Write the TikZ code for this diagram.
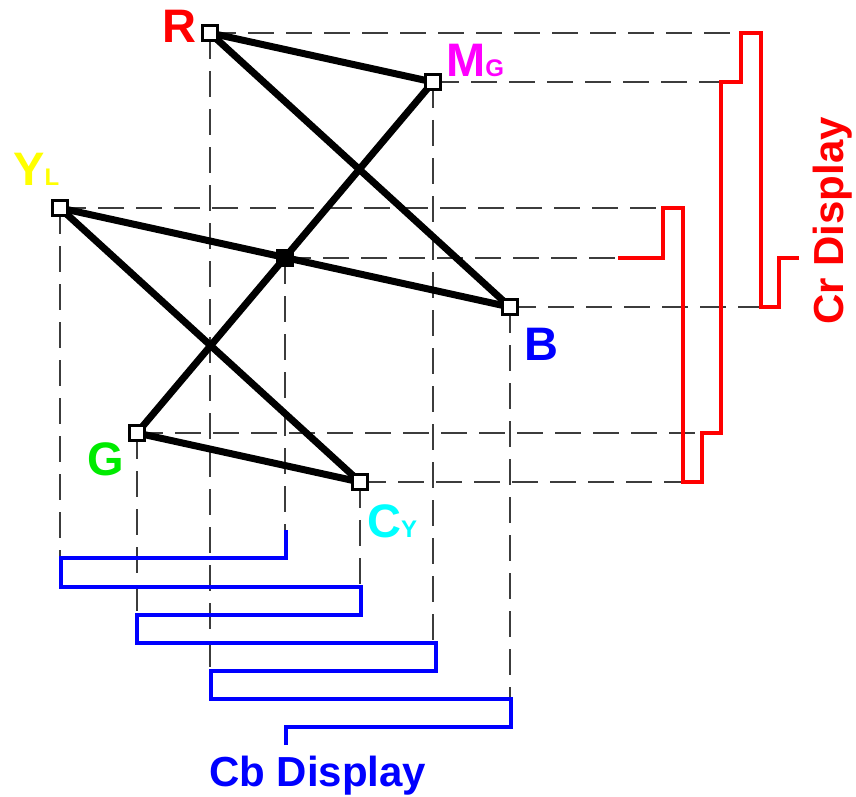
\documentclass[tikz,border=0pt]{standalone}
\usepackage{fontspec}
\setmainfont{Liberation Sans}
\usepackage{xcolor}
\definecolor{lred}{RGB}{255,0,0}
\definecolor{lgreen}{RGB}{0,235,0}
\definecolor{lblue}{RGB}{0,0,255}
\definecolor{lmagenta}{RGB}{255,0,255}
\definecolor{lyellow}{RGB}{255,255,0}
\definecolor{lcyan}{RGB}{0,255,255}
\definecolor{guidegray}{RGB}{60,60,60}
\newcommand\lsub[1]{{\fontsize{24}{24}\selectfont #1}}

\begin{document}
\begin{tikzpicture}[x=1pt,y=-1pt,
    pt/.style={draw,line width=3.5pt,fill=white,minimum size=15pt,inner sep=0pt},
    ptc/.style={pt,fill=black},
    bar/.style={line width=7pt},
    guide/.style={draw=guidegray,line width=1.4pt,dash pattern=on 26pt off 12pt},
    wave/.style={line width=4pt},
    big/.style={font=\bfseries\fontsize{47}{47}\selectfont,inner sep=0pt,anchor=base west},
    title/.style={font=\bfseries\fontsize{42}{42}\selectfont,inner sep=0pt}]
    \useasboundingbox (0,0) rectangle (856,797);

    % colour points
    \coordinate (R) at (210,33);
    \coordinate (MG) at (433,82);
    \coordinate (YL) at (60,208);
    \coordinate (X) at (285,258);
    \coordinate (B) at (510,307);
    \coordinate (G) at (137,433);
    \coordinate (CY) at (360,482);

    % projections to the two displays
    \foreach \p/\x in {R/741,MG/721,YL/663,X/618,B/761,G/702,CY/683}
        \draw[guide] (\p) -- (\p -| \x,0);
    \foreach \p/\y in {X/530,YL/558,CY/587,G/615,MG/643,R/671,B/699}
        \draw[guide] (\p) -- (\p |- 0,\y);

    \draw[bar] (R) -- (MG);
    \draw[bar] (R) -- (B);
    \draw[bar] (MG) -- (G);
    \draw[bar] (YL) -- (B);
    \draw[bar] (YL) -- (CY);
    \draw[bar] (G) -- (CY);

    \foreach \p in {R,MG,YL,B,G,CY}
        \node[pt] at (\p) {};
    \node[ptc] at (X) {};

    % Cr waveform
    \draw[wave,lred] (618,258) -| (663,208) -| (683,482) -| (702,433) -| (721,82)
        -| (741,33) -| (761,307) -| (779,258) -- (799,258);
    % Cb waveform
    \draw[wave,lblue] (286,530) |- (61,558) |- (361,587) |- (137,615) |- (436,643)
        |- (211,671) |- (511,699) |- (286,727) -- (286,745);

    \node[big,text=lred] at (162,43) {R};
    \node[big,text=lmagenta] at (446,77) {M\lsub{G}};
    \node[big,text=lyellow] at (13,185) {Y\lsub{L}};
    \node[big,text=lblue] at (524,360) {B};
    \node[big,text=lgreen] at (87,475) {G};
    \node[big,text=lcyan] at (367,537) {C\lsub{Y}};
    \node[title,text=lblue,anchor=base west] at (209,786) {Cb Display};
    \node[title,text=lred,rotate=90] at (833,221) {Cr Display};
\end{tikzpicture}
\end{document}
